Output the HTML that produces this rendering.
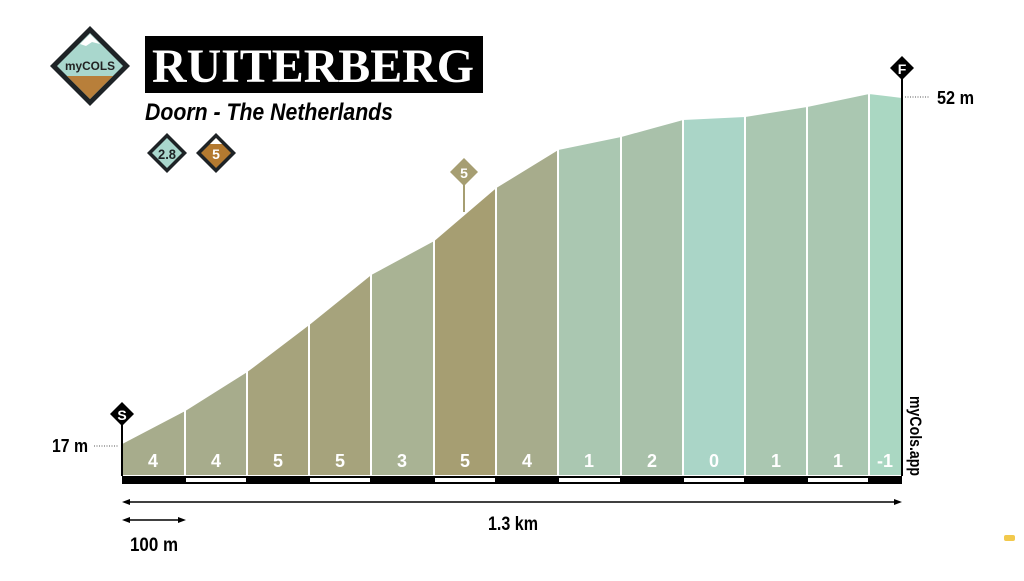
<!DOCTYPE html>
<html><head><style>
body{margin:0;width:1024px;height:576px;background:#fff;overflow:hidden}
text{font-family:"Liberation Sans",sans-serif;font-weight:bold}
</style></head><body>
<svg width="1024" height="576" viewBox="0 0 1024 576">
<g stroke="#fff" stroke-width="2">
<polygon points="122,443 185,410 185,476 122,476" fill="#a7ac8c"/>
<polygon points="185,410 247,371 247,476 185,476" fill="#a7ac8c"/>
<polygon points="247,371 309,324 309,476 247,476" fill="#a6a37c"/>
<polygon points="309,324 371,274 371,476 309,476" fill="#a6a37c"/>
<polygon points="371,274 434,240 434,476 371,476" fill="#a9b394"/>
<polygon points="434,240 496,187 496,476 434,476" fill="#a69e72"/>
<polygon points="496,187 558,149 558,476 496,476" fill="#a7ac8c"/>
<polygon points="558,149 621,136 621,476 558,476" fill="#aac7b1"/>
<polygon points="621,136 683,119 683,476 621,476" fill="#a9c1aa"/>
<polygon points="683,119 745,116 745,476 683,476" fill="#aad5c7"/>
<polygon points="745,116 807,106 807,476 745,476" fill="#aac7b1"/>
<polygon points="807,106 869,93 869,476 807,476" fill="#aac7b1"/>
<polygon points="869,93 902,97 902,476 869,476" fill="#aad7c2"/>
</g>
<g fill="#fff" font-size="18" text-anchor="middle">
<text x="153" y="467">4</text><text x="216" y="467">4</text><text x="278" y="467">5</text><text x="340" y="467">5</text><text x="402" y="467">3</text><text x="465" y="467">5</text><text x="527" y="467">4</text><text x="589" y="467">1</text><text x="652" y="467">2</text><text x="714" y="467">0</text><text x="776" y="467">1</text><text x="838" y="467">1</text><text x="885" y="467">-1</text>
</g>
<rect x="122" y="476" width="780" height="8" fill="#000"/>
<g fill="#fff"><rect x="186" y="478" width="60" height="4"/><rect x="310" y="478" width="60" height="4"/><rect x="435" y="478" width="60" height="4"/><rect x="559" y="478" width="61" height="4"/><rect x="684" y="478" width="60" height="4"/><rect x="808" y="478" width="60" height="4"/></g>
<line x1="122" y1="420" x2="122" y2="476" stroke="#000" stroke-width="2"/>
<line x1="902" y1="75" x2="902" y2="476" stroke="#000" stroke-width="2"/>
<polygon points="122,402 134,414 122,426 110,414" fill="#000"/><text x="122" y="420" fill="#fff" font-size="14" text-anchor="middle">S</text>
<polygon points="902,56 914,68 902,80 890,68" fill="#000"/><text x="902" y="74" fill="#fff" font-size="14" text-anchor="middle">F</text>
<line x1="94" y1="446" x2="119" y2="446" stroke="#555" stroke-dasharray="1,1.5"/>
<line x1="905" y1="97" x2="930" y2="97" stroke="#555" stroke-dasharray="1,1.5"/>
<text x="52" y="452" font-size="18" textLength="36" lengthAdjust="spacingAndGlyphs">17 m</text>
<text x="937" y="104" font-size="18" textLength="37" lengthAdjust="spacingAndGlyphs">52 m</text>
<text transform="translate(910,396) rotate(90)" font-size="17" textLength="80" lengthAdjust="spacingAndGlyphs">myCols.app</text>
<line x1="128" y1="502" x2="896" y2="502" stroke="#000" stroke-width="1.5"/>
<polygon points="122,502 130,499 130,505"/><polygon points="902,502 894,499 894,505"/>
<text x="488" y="530" font-size="19" textLength="50" lengthAdjust="spacingAndGlyphs">1.3 km</text>
<line x1="128" y1="520" x2="179" y2="520" stroke="#000" stroke-width="1.5"/>
<polygon points="122,520 130,517 130,523"/><polygon points="186,520 178,517 178,523"/>
<text x="130" y="551" font-size="19" textLength="48" lengthAdjust="spacingAndGlyphs">100 m</text>
<line x1="464" y1="185" x2="464" y2="212" stroke="#a69e72" stroke-width="2"/>
<polygon points="464,158 478,172 464,186 450,172" fill="#a69e72"/><text x="464" y="178" fill="#fff" font-size="14" text-anchor="middle">5</text>
<!-- logo -->
<polygon points="90,26 130,66 90,106 50,66" fill="#1e2326"/>
<polygon points="90,33 123,66 90,99 57,66" fill="#a9d7cd"/>
<polygon points="67,76 113,76 90,99" fill="#b87f3a"/>
<polygon points="80,44 90,34 100,44 92,42 86,46" fill="#fff"/>
<text x="65" y="70" font-size="12" fill="#222" textLength="50" lengthAdjust="spacingAndGlyphs">myCOLS</text>
<rect x="145" y="36" width="338" height="57" fill="#000"/>
<text x="152" y="82" fill="#fff" font-size="48" style="font-family:'Liberation Serif',serif" textLength="322" lengthAdjust="spacingAndGlyphs">RUITERBERG</text>
<text x="145" y="120" font-size="24" font-style="italic" textLength="248" lengthAdjust="spacingAndGlyphs">Doorn - The Netherlands</text>
<polygon points="167,133 187,153 167,173 147,153" fill="#1e2326"/><polygon points="167,138 182,153 167,168 152,153" fill="#a9d7cd"/>
<text x="167" y="159" font-size="14" text-anchor="middle" fill="#1e2326" textLength="18" lengthAdjust="spacingAndGlyphs">2.8</text>
<polygon points="216,133 236,153 216,173 196,153" fill="#1e2326"/><polygon points="216,138 231,153 216,168 201,153" fill="#b47a30"/>
<polygon points="210,144 216,138 222,144" fill="#fff"/>
<text x="216" y="159" font-size="14" text-anchor="middle" fill="#fff">5</text>
<rect x="1004" y="535" width="11" height="6" rx="2" fill="#f2c94c"/>
</svg>
</body></html>
